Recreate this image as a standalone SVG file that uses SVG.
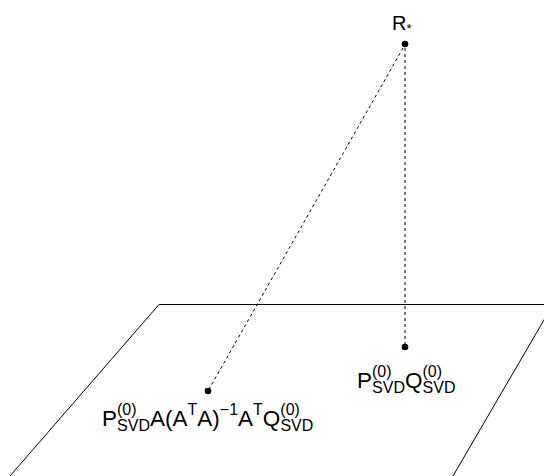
<svg xmlns="http://www.w3.org/2000/svg" width="544" height="476" viewBox="0 0 544 476">
<style>
text{font-family:"Liberation Sans",Arial,sans-serif;fill:#000}
.m{font-size:22.5px}
.s{font-size:16px}
.plane{fill:none;stroke:#000;stroke-width:1}
.dash{fill:none;stroke:#000;stroke-width:1;stroke-dasharray:3,3}
.dot{fill:#000}
</style>
<rect width="544" height="476" fill="#fff"/>
<g id="plane">
<path class="plane" d="M10 476 L159 304.5 L560 304.5 M553 304.5 L453 476"/>
</g>
<g id="connectors">
<line class="dash" x1="405" y1="48" x2="405" y2="347"/>
<line class="dash" x1="403" y1="48" x2="208" y2="391"/>
</g>
<g id="node-R">
<circle class="dot" cx="405" cy="44" r="3.3"/>
<text x="392" y="30" style="font-size:20px">R<tspan style="font-size:13px" dy="3">*</tspan></text>
</g>
<g id="node-PQ">
<circle class="dot" cx="405" cy="347" r="3.3"/>
<text class="m" x="357" y="388">P<tspan class="s" dy="-11">(0)</tspan><tspan class="s" dx="-19.5" dy="16">SVD</tspan><tspan dy="-5">Q</tspan><tspan class="s" dy="-11">(0)</tspan><tspan class="s" dx="-19.5" dy="16">SVD</tspan></text>
</g>
<g id="node-proj">
<circle class="dot" cx="208" cy="391" r="3.3"/>
<text class="m" x="102" y="426">P<tspan class="s" dy="-11">(0)</tspan><tspan class="s" dx="-19.5" dy="16">SVD</tspan><tspan dy="-5">A(A</tspan><tspan class="s" dy="-11">T</tspan><tspan dy="11">A)</tspan><tspan class="s" dy="-11">−1</tspan><tspan dy="11">A</tspan><tspan class="s" dy="-11">T</tspan><tspan dy="11">Q</tspan><tspan class="s" dy="-11">(0)</tspan><tspan class="s" dx="-19.5" dy="16">SVD</tspan></text>
</g>
</svg>
